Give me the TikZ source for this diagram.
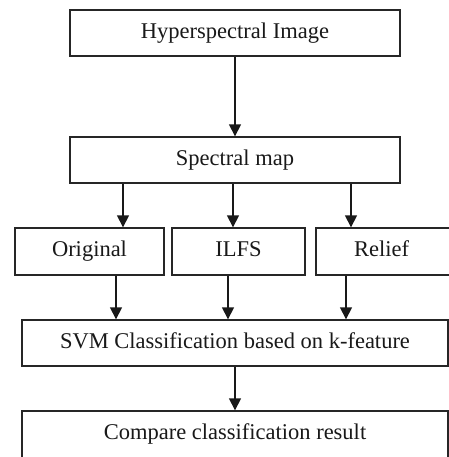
\documentclass[tikz,border=0pt]{standalone}
\usepackage{fontspec}
\setmainfont{Liberation Serif}
\usetikzlibrary{arrows.meta}
\begin{document}
\begin{tikzpicture}[x=1pt,y=-1pt,
  box/.style={draw=black!85,line width=1.4pt,rectangle,inner sep=0pt,
    text height=15.5pt,text depth=5pt,
    font=\fontsize{22.5}{26}\selectfont,text=black!90},
  arr/.style={draw=black!90,line width=1.6pt,-{Triangle[width=12pt,length=12pt]}}]
\useasboundingbox (0,0) rectangle (448,457);
\fill[white] (0,0) rectangle (448,457);
\node[box,minimum width=330pt,minimum height=46pt] (hi) at (235,33) {Hyperspectral Image};
\node[box,minimum width=330pt,minimum height=46pt] (sm) at (235,160) {Spectral map};
\node[box,minimum width=149pt,minimum height=47pt] (orig) at (89.5,251.5) {Original};
\node[box,minimum width=133pt,minimum height=47pt] (ilfs) at (238.5,251.5) {ILFS};
\node[box,minimum width=140pt,minimum height=47pt] (rel) at (386,251.5) {\hspace*{-9pt}Relief};
\node[box,minimum width=426pt,minimum height=46pt] (svm) at (235,343) {SVM Classification based on k-feature};
\node[box,minimum width=426pt,minimum height=47pt] (cmp) at (235,434.5) {Compare classification result};
\coordinate (a1) at (123,0);
\coordinate (a2) at (233,0);
\coordinate (a3) at (351,0);
\coordinate (b1) at (116,0);
\coordinate (b2) at (228,0);
\coordinate (b3) at (346,0);
\draw[arr] (hi.south) -- (sm.north);
\draw[arr] (sm.south -| a1) -- (orig.north -| a1);
\draw[arr] (sm.south -| a2) -- (ilfs.north -| a2);
\draw[arr] (sm.south -| a3) -- (rel.north -| a3);
\draw[arr] (orig.south -| b1) -- (svm.north -| b1);
\draw[arr] (ilfs.south -| b2) -- (svm.north -| b2);
\draw[arr] (rel.south -| b3) -- (svm.north -| b3);
\draw[arr] (svm.south) -- (cmp.north);
\end{tikzpicture}
\end{document}
